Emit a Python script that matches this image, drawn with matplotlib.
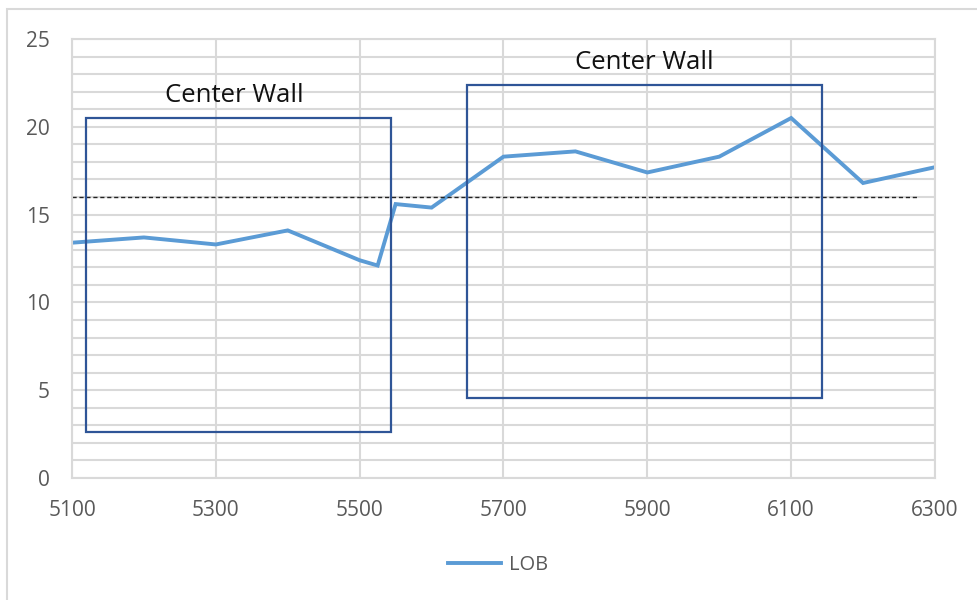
import matplotlib
matplotlib.use("Agg")
import matplotlib.pyplot as plt
from matplotlib.patches import Rectangle
from matplotlib.ticker import MultipleLocator, FixedLocator

# LOB series
station = [5100, 5200, 5300, 5400, 5500, 5525, 5550, 5600, 5700, 5800, 5900, 6000, 6100, 6200, 6300]
lob = [13.4, 13.7, 13.3, 14.1, 12.4, 12.1, 15.6, 15.4, 18.3, 18.6, 17.4, 18.3, 20.5, 16.8, 17.7]

x_ticks = [5100, 5300, 5500, 5700, 5900, 6100, 6300]
y_ticks = [0, 5, 10, 15, 20, 25]

# reference level
threshold = 16
threshold_span = [5100, 6276]

# center wall regions
wall_labels = ["Center Wall", "Center Wall"]
wall_x0 = [5119, 5649]
wall_x1 = [5543, 6143]
wall_y0 = [2.6, 4.55]
wall_y1 = [20.5, 22.4]

plt.rcParams["font.family"] = ["Open Sans", "DejaVu Sans"]

fig = plt.figure(figsize=(9.77, 6.0), dpi=100)
ax = fig.add_axes([0.0737, 0.2033, 0.8833, 0.7317])

grid_c = "#D9D9D9"
ax.set_xlim(5100, 6300)
ax.set_ylim(0, 25)
ax.xaxis.set_major_locator(FixedLocator(x_ticks))
ax.yaxis.set_major_locator(FixedLocator(y_ticks))
ax.yaxis.set_minor_locator(MultipleLocator(1))
ax.grid(True, which="major", axis="x", color=grid_c, lw=1.5)
ax.grid(True, which="both", axis="y", color=grid_c, lw=1.5)
ax.set_axisbelow(True)
for s in ax.spines.values():
    s.set_color(grid_c)
    s.set_linewidth(1.5)
ax.tick_params(which="both", length=0, colors="#595959", labelsize=15)
ax.tick_params(axis="x", pad=16)
ax.tick_params(axis="y", pad=16)

ax.plot(station, lob, color="#5B9BD5", lw=2.8, label="LOB", solid_joinstyle="miter")
ax.plot(threshold_span, [threshold, threshold], color="#222222", lw=1.0,
        ls=(0, (3, 2)))

label_shift = [-6, 0]
for lbl, x0, x1, y0, y1, dx in zip(wall_labels, wall_x0, wall_x1, wall_y0, wall_y1, label_shift):
    ax.add_patch(Rectangle((x0, y0), x1 - x0, y1 - y0, fill=False,
                           edgecolor="#2F5597", lw=1.6, zorder=4))
    ax.text((x0 + x1) / 2 + dx, y1 + 0.55, lbl, ha="center", va="bottom",
            fontsize=18.5, color="#111111")

fig.legend(loc="center", bbox_to_anchor=(0.51, 0.058), frameon=False,
           fontsize=14.5, labelcolor="#595959", handlelength=2.6, handletextpad=0.4)

fig.patches.append(Rectangle((0.007, -0.01), 1.1, 0.995, transform=fig.transFigure,
                             fill=False, edgecolor="#D9D9D9", lw=1.5))

fig.savefig("out.png", dpi=100)
